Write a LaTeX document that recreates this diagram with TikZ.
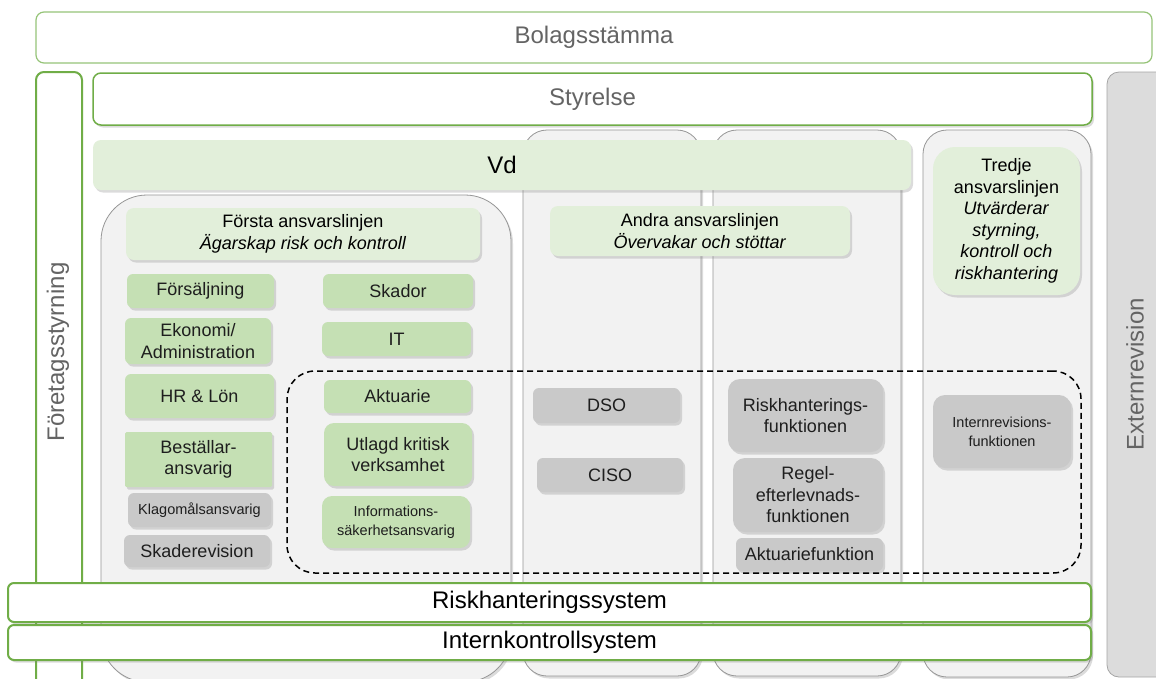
\documentclass[tikz,border=0pt]{standalone}
\usepackage{fontspec}
\setmainfont{Liberation Sans}
\usetikzlibrary{shadows}
\definecolor{gbord}{RGB}{112,173,71}
\definecolor{gbordlight}{RGB}{150,196,120}
\definecolor{lgreen}{RGB}{226,239,218}
\definecolor{igreen}{RGB}{197,224,180}
\definecolor{igray}{RGB}{201,201,201}
\definecolor{colbg}{RGB}{242,242,242}
\definecolor{colbd}{RGB}{150,150,150}
\definecolor{extbg}{RGB}{220,220,220}
\definecolor{extbd}{RGB}{165,165,165}
\definecolor{gtxt}{RGB}{100,100,100}
\definecolor{dtxt}{RGB}{30,30,30}
\newcommand\bx[7]{\node[#1, minimum width={(#5)-(#3)}, minimum height={(#6)-(#4)}] (#2) at ({((#3)+(#5))/2},{((#4)+(#6))/2}) {#7};}
\tikzset{
  base/.style={inner sep=1pt, outer sep=0pt, align=center, text=dtxt},
  sh/.style={drop shadow={shadow xshift=2pt, shadow yshift=-2.5pt, opacity=0.28}},
  bigfont/.style={font=\fontsize{24}{28}\selectfont},
  midfont/.style={font=\fontsize{18}{21.5}\selectfont},
  smallfont/.style={font=\fontsize{14.5}{19}\selectfont},
  topbox/.style={base, draw=gbordlight, line width=1.2pt, fill=white, rounded corners=8pt, bigfont, text=gtxt},
  stybox/.style={base, draw=gbord, line width=1.5pt, fill=white, rounded corners=8pt, bigfont, text=gtxt, sh},
  sidebox/.style={base, draw=gbord, line width=2pt, fill=white, rounded corners=8pt},
  extbox/.style={base, draw=extbd, line width=0.8pt, fill=extbg, rounded corners=12pt},
  sidetext/.style={base, bigfont, text=gtxt, rotate=90},
  colbox/.style={base, draw=colbd, line width=0.8pt, fill=colbg, rounded corners=24pt, sh},
  col1box/.style={colbox, rounded corners=46pt},
  vdbox/.style={base, fill=lgreen, rounded corners=8pt, bigfont, text=black, sh},
  hdbox/.style={base, fill=lgreen, rounded corners=8pt, midfont, text=black, sh},
  gitem/.style={base, fill=igreen, rounded corners=6pt, midfont, sh},
  gritem/.style={base, fill=igray, rounded corners=6pt, midfont, sh},
  dashbox/.style={base, draw=black, line width=1.5pt, dash pattern=on 6pt off 4pt, rounded corners=28pt},
  sysbox/.style={base, draw=gbord, line width=2pt, fill=white, rounded corners=6pt, bigfont, text=black, sh},
}
\begin{document}
\begin{tikzpicture}[x=1pt,y=-1pt]
\clip (0,0) rectangle (1156,678);
\fill[white] (0,0) rectangle (1156,678);
% top and side frames
\bx{topbox}{bol}{36}{12}{1152}{63}{Bolagsstämma}
\bx{sidebox}{fsb}{36}{72}{82}{700}{}
\node[sidetext] (fst) at (58,352) {Företagsstyrning};
\bx{extbox}{ext}{1107}{72}{1178}{677}{}
\node[sidetext] (ett) at (1135,374) {Externrevision};
\bx{stybox}{sty}{93}{73}{1092}{125}{Styrelse}
% columns
\bx{col1box}{col1}{101}{195}{511}{682}{}
\bx{colbox}{col2}{523}{130}{701}{676}{}
\bx{colbox}{col3}{713}{130}{901}{676}{}
\bx{colbox}{col4}{923}{130}{1091}{677}{}
% Vd
\bx{vdbox}{vd}{93}{140}{911}{190}{Vd}
% headers
\bx{hdbox}{h1}{126}{208}{480}{260}{Första ansvarslinjen\\\textit{Ägarskap risk och kontroll}}
\bx{hdbox}{h2}{550}{206}{850}{256}{Andra ansvarslinjen\\\textit{Övervakar och stöttar}}
\bx{hdbox, rounded corners=22pt}{h3}{933}{147}{1080}{295}{Tredje\\ansvarslinjen\\\textit{Utvärderar}\\\textit{styrning,}\\\textit{kontroll och}\\\textit{riskhantering}}
% first line items
\bx{gitem}{fors}{127}{274}{274}{308}{Försäljning}
\bx{gitem}{skad}{323}{274}{473}{308}{Skador}
\bx{gitem}{ekon}{125}{318}{271}{364}{Ekonomi/\\Administration}
\bx{gitem}{it}{322}{322}{471}{356}{IT}
\bx{gitem}{hr}{125}{374}{274}{418}{HR \& Lön}
\bx{gitem}{akt}{324}{380}{471}{413}{Aktuarie}
\bx{gitem, rounded corners=1.5pt}{best}{125}{432}{272}{487}{Beställar-\\ansvarig}
\bx{gitem, rounded corners=10pt}{utl}{324}{423}{472}{486}{Utlagd kritisk\\verksamhet}
\bx{gritem, smallfont}{klag}{128}{493}{271}{527}{Klagomålsansvarig}
\bx{gitem, smallfont, rounded corners=10pt}{info}{322}{496}{470}{548}{Informations-\\säkerhetsansvarig}
\bx{gritem}{skrev}{124}{535}{270}{567}{Skaderevision}
% second line items
\bx{gritem}{dso}{533}{388}{680}{423}{DSO}
\bx{gritem}{ciso}{537}{458}{683}{492}{CISO}
\bx{gritem, rounded corners=12pt}{riskf}{728}{379}{883}{452}{Riskhanterings-\\funktionen}
\bx{gritem, rounded corners=12pt}{regel}{733}{458}{883}{532}{Regel-\\efterlevnads-\\funktionen}
\bx{gritem}{aktf}{736}{538}{883}{571}{Aktuariefunktion}
% third line item
\bx{gritem, smallfont, rounded corners=12pt}{intrev}{933}{395}{1071}{468}{Internrevisions-\\funktionen}
% dashed outline
\bx{dashbox}{dbox}{287}{371}{1081}{573}{}
% system bars
\bx{sysbox}{rhs}{8}{583}{1091}{622}{Riskhanteringssystem}
\bx{sysbox}{iks}{8}{625}{1091}{660}{Internkontrollsystem}
\end{tikzpicture}
\end{document}
